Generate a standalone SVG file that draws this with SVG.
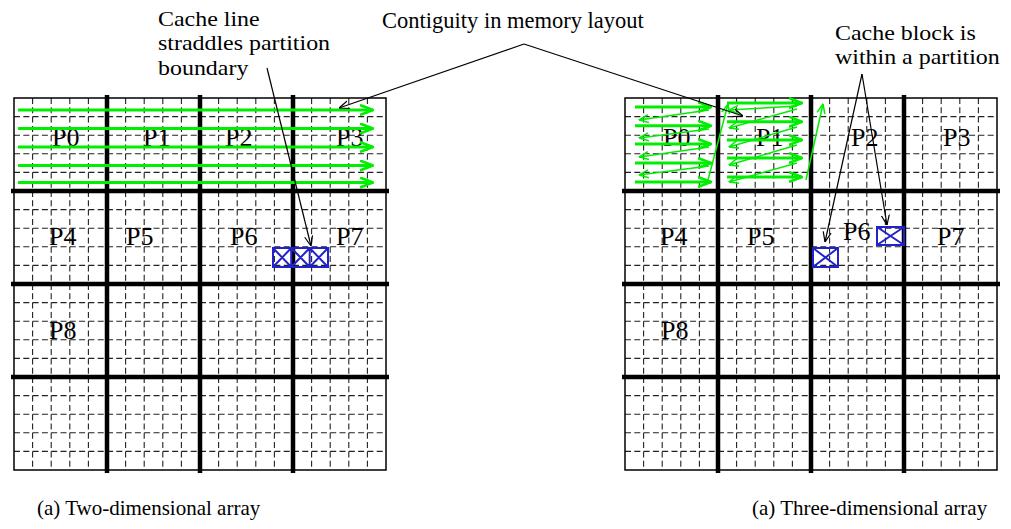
<svg xmlns="http://www.w3.org/2000/svg" xmlns:xlink="http://www.w3.org/1999/xlink" width="1011" height="529" viewBox="0 0 1011 529">
<style>
text{font-family:"Liberation Serif","Times New Roman",serif;fill:#000}
.lbl{font-size:26px}
.ann{font-size:21px}
.big{font-size:22.5px}
.cap{font-size:21px}
.dash{fill:none;stroke:#222;stroke-width:1.1;stroke-dasharray:6 3.3}
.thick{fill:none;stroke:#000;stroke-width:4.5}
.frame{fill:none;stroke:#000;stroke-width:1.5}
.hatch{fill:none;stroke:#2222cc;stroke-width:2}
.g3{fill:none;stroke:#00ee00;stroke-width:3}
.g1{fill:none;stroke:#00ee00;stroke-width:1.5}
.pt{fill:none;stroke:#000;stroke-width:1.2}
</style>
<defs>
<marker id="ah" viewBox="0 0 10 10" refX="10" refY="5" markerWidth="10" markerHeight="10" markerUnits="userSpaceOnUse" orient="auto"><path d="M0,1 L10,5 L0,9" fill="none" stroke="#000" stroke-width="1.2"/></marker>
<marker id="gh" viewBox="0 0 14 12" refX="13" refY="6" markerWidth="14" markerHeight="12" markerUnits="userSpaceOnUse" orient="auto"><path d="M0,1 L13,6 L0,11" fill="none" stroke="#00ee00" stroke-width="2.6"/></marker>
<marker id="gt" viewBox="0 0 10 10" refX="9.5" refY="5" markerWidth="10" markerHeight="10" markerUnits="userSpaceOnUse" orient="auto"><path d="M0,1 L9.5,5 L0,9" fill="none" stroke="#00ee00" stroke-width="1.5"/></marker>
<g id="grid">
<path class="dash" d="M32.6,98V470M51.2,98V470M69.8,98V470M88.4,98V470M125.6,98V470M144.2,98V470M162.8,98V470M181.4,98V470M218.6,98V470M237.2,98V470M255.8,98V470M274.4,98V470M311.6,98V470M330.2,98V470M348.8,98V470M367.4,98V470"/>
<path class="dash" d="M14,116.6H386M14,135.2H386M14,153.8H386M14,172.4H386M14,209.6H386M14,228.2H386M14,246.8H386M14,265.4H386M14,302.6H386M14,321.2H386M14,339.8H386M14,358.4H386M14,395.6H386M14,414.2H386M14,432.8H386M14,451.4H386"/>
<rect class="frame" x="14" y="98" width="372" height="372"/>
<path class="thick" d="M107,95V473M200,95V473M293,95V473M11,191H389M11,284H389M11,377H389"/>
</g>
</defs>

<g id="grid-2d"><use xlink:href="#grid" href="#grid"/></g>
<g id="grid-3d"><use xlink:href="#grid" href="#grid" transform="translate(611,0)"/></g>

<g id="labels-2d">
<text class="lbl" x="52" y="146">P0</text>
<text class="lbl" x="143" y="146">P1</text>
<text class="lbl" x="225" y="146">P2</text>
<text class="lbl" x="336" y="146">P3</text>
<text class="lbl" x="49" y="245">P4</text>
<text class="lbl" x="126" y="245">P5</text>
<text class="lbl" x="230" y="245">P6</text>
<text class="lbl" x="336" y="245">P7</text>
<text class="lbl" x="49" y="339">P8</text>
</g>
<g id="labels-3d">
<text class="lbl" x="663" y="146">P0</text>
<text class="lbl" x="756" y="146">P1</text>
<text class="lbl" x="851" y="146">P2</text>
<text class="lbl" x="943" y="146">P3</text>
<text class="lbl" x="660" y="245">P4</text>
<text class="lbl" x="747" y="245">P5</text>
<text class="lbl" x="843" y="240">P6</text>
<text class="lbl" x="937" y="245">P7</text>
<text class="lbl" x="661" y="339">P8</text>
</g>

<g id="cache-line-2d">
<rect class="hatch" x="273" y="248" width="55" height="19"/>
<path class="hatch" d="M291.3,248V267M309.7,248V267M273,248L291.3,267M291.3,248L273,267M291.3,248L309.7,267M309.7,248L291.3,267M309.7,248L328,267M328,248L309.7,267"/>
</g>
<g id="cache-block-a">
<rect class="hatch" x="813" y="248" width="25" height="19"/>
<path class="hatch" d="M813,248L838,267M838,248L813,267"/>
</g>
<g id="cache-block-b">
<rect class="hatch" x="877" y="227" width="27" height="18"/>
<path class="hatch" d="M877,227L904,245M904,227L877,245"/>
</g>

<g id="flow-2d">
<path class="g3" marker-end="url(#gh)" d="M18,110H373"/>
<path class="g3" marker-end="url(#gh)" d="M18,128.5H373"/>
<path class="g3" marker-end="url(#gh)" d="M18,147H373"/>
<path class="g3" marker-end="url(#gh)" d="M18,165.5H373"/>
<path class="g3" marker-end="url(#gh)" d="M18,182.5H373"/>
</g>

<g id="flow-3d">
<path class="g3" marker-end="url(#gh)" d="M635,107H711"/>
<path class="g3" marker-end="url(#gh)" d="M635,125.7H711"/>
<path class="g3" marker-end="url(#gh)" d="M635,144H711"/>
<path class="g3" marker-end="url(#gh)" d="M635,163H711"/>
<path class="g3" marker-end="url(#gh)" d="M635,182H711"/>
<path class="g1" marker-end="url(#gt)" d="M709,110L639,120"/>
<path class="g1" marker-end="url(#gt)" d="M709,129L639,138"/>
<path class="g1" marker-end="url(#gt)" d="M709,147L639,157"/>
<path class="g1" marker-end="url(#gt)" d="M709,166L639,175"/>
<path class="g1" marker-end="url(#gt)" d="M708,180L728,104"/>
<path class="g3" marker-end="url(#gh)" d="M727,103H802"/>
<path class="g3" marker-end="url(#gh)" d="M727,121.7H802"/>
<path class="g3" marker-end="url(#gh)" d="M727,140H802"/>
<path class="g3" marker-end="url(#gh)" d="M727,158H802"/>
<path class="g3" marker-end="url(#gh)" d="M727,177H802"/>
<path class="g1" marker-end="url(#gt)" d="M797,106L729,110"/>
<path class="g1" marker-end="url(#gt)" d="M797,109L729,128"/>
<path class="g1" marker-end="url(#gt)" d="M797,127L729,147"/>
<path class="g1" marker-end="url(#gt)" d="M797,145L729,165"/>
<path class="g1" marker-end="url(#gt)" d="M797,163L729,182"/>
<path class="g1" marker-end="url(#gt)" d="M806,180L823,104"/>
</g>

<g id="annotations">
<text class="big" x="382" y="28">Contiguity in memory layout</text>
<g transform="translate(158,0) scale(1.14,1)">
<text class="ann" x="0" y="26">Cache line</text>
<text class="ann" x="0" y="50.5">straddles partition</text>
<text class="ann" x="0" y="75">boundary</text>
</g>
<g transform="translate(835,0) scale(1.14,1)">
<text class="ann" x="0" y="40">Cache block is</text>
<text class="ann" x="0" y="64.5">within a partition</text>
</g>
<text class="cap" x="37" y="515">(a) Two-dimensional array</text>
<text class="cap" x="752" y="515">(a) Three-dimensional array</text>
</g>

<g id="connectors">
<path class="pt" marker-end="url(#ah)" d="M524,44L339,108"/>
<path class="pt" marker-end="url(#ah)" d="M524,44L743,116"/>
<path class="pt" marker-end="url(#ah)" d="M267,68L311,246"/>
<path class="pt" marker-end="url(#ah)" d="M862,74L825,242"/>
<path class="pt" marker-end="url(#ah)" d="M862,74L887,225"/>
</g>
</svg>
